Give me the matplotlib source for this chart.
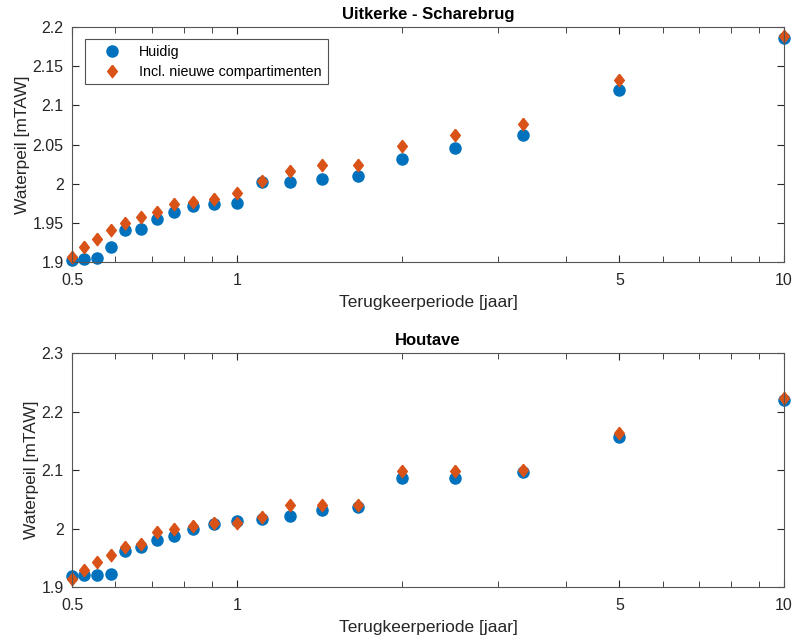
import numpy as np
import matplotlib.pyplot as plt
from matplotlib.ticker import FixedLocator, NullFormatter

plt.rcParams['font.family'] = ['Liberation Sans', 'DejaVu Sans']

# return periods [jaar]
periode = [0.5, 0.526, 0.556, 0.588, 0.625, 0.667, 0.714, 0.769, 0.833, 0.909,
           1.0, 1.111, 1.25, 1.429, 1.667, 2.0, 2.5, 3.333, 5.0, 10.0]

# Uitkerke - Scharebrug
uit_huidig = [1.903, 1.904, 1.905, 1.919, 1.941, 1.942, 1.955, 1.964, 1.972, 1.974,
              1.976, 2.002, 2.002, 2.006, 2.010, 2.031, 2.045, 2.062, 2.120, 2.186]
uit_nieuw = [1.907, 1.919, 1.929, 1.941, 1.950, 1.957, 1.964, 1.974, 1.977, 1.980,
             1.988, 2.004, 2.016, 2.024, 2.024, 2.048, 2.062, 2.076, 2.132, 2.189]

# Houtave
hou_huidig = [1.918, 1.921, 1.921, 1.922, 1.962, 1.968, 1.980, 1.988, 1.999, 2.007,
              2.013, 2.016, 2.021, 2.031, 2.036, 2.086, 2.087, 2.097, 2.156, 2.220]
hou_nieuw = [1.913, 1.929, 1.942, 1.955, 1.968, 1.974, 1.994, 1.999, 2.005, 2.009,
             2.010, 2.019, 2.040, 2.041, 2.041, 2.098, 2.099, 2.100, 2.163, 2.223]

blauw = '#0072BD'
oranje = '#D95319'
grijs = '#262626'

# MATLAB-like diamond (a bit taller than wide)
ruit = [(0, 1), (0.78, 0), (0, -1), (-0.78, 0), (0, 1)]

fig = plt.figure(figsize=(7.96, 6.41), dpi=100)
ax1 = fig.add_axes([0.0905, 0.591, 0.8945, 0.367])
ax2 = fig.add_axes([0.0905, 0.0843, 0.8945, 0.3647])


def opmaak(ax, titel, ylim, yticks):
    ax.set_xscale('log')
    ax.set_xlim(0.5, 10)
    ax.set_ylim(*ylim)
    ax.xaxis.set_major_locator(FixedLocator([0.5, 1, 5, 10]))
    ax.set_xticklabels(['0.5', '1', '5', '10'])
    ax.xaxis.set_minor_locator(FixedLocator([0.6, 0.7, 0.8, 0.9, 2, 3, 4, 6, 7, 8, 9]))
    ax.xaxis.set_minor_formatter(NullFormatter())
    ax.set_yticks(yticks)
    ax.set_yticklabels([('%g' % t) for t in yticks])
    ax.tick_params(which='both', direction='in', top=True, right=True,
                   colors=grijs, labelsize=11.5)
    ax.tick_params(axis='x', which='major', length=5, pad=8)
    ax.tick_params(axis='y', which='major', length=5, pad=6)
    ax.tick_params(which='minor', length=4)
    for s in ax.spines.values():
        s.set_color('#555555')
        s.set_linewidth(0.8)
    ax.set_title(titel, fontsize=12, fontweight='bold', pad=6)
    ax.set_xlabel('Terugkeerperiode [jaar]', fontsize=12.5, color=grijs, labelpad=5)
    ax.set_ylabel('Waterpeil [mTAW]', fontsize=12.5, color=grijs, labelpad=2)


ax1.plot(periode, uit_huidig, 'o', color=blauw, markersize=8, label='Huidig',
         clip_on=False)
ax1.plot(periode, uit_nieuw, marker=ruit, linestyle='none', color=oranje,
         markersize=9, label='Incl. nieuwe compartimenten', clip_on=False)
opmaak(ax1, 'Uitkerke - Scharebrug', (1.9, 2.2),
       [1.9, 1.95, 2.0, 2.05, 2.1, 2.15, 2.2])
leg = ax1.legend(loc='upper left', fontsize=10.3, frameon=True, fancybox=False,
                 borderpad=0.4, labelspacing=0.42, handlelength=3.0,
                 handletextpad=0.4, borderaxespad=0,
                 bbox_to_anchor=(0.018, 0.949))
leg.get_frame().set_edgecolor(grijs)
leg.get_frame().set_linewidth(0.8)

ax2.plot(periode, hou_huidig, 'o', color=blauw, markersize=8, clip_on=False)
ax2.plot(periode, hou_nieuw, marker=ruit, linestyle='none', color=oranje,
         markersize=9, clip_on=False)
opmaak(ax2, 'Houtave', (1.9, 2.3), [1.9, 2.0, 2.1, 2.2, 2.3])

fig.savefig('out.png', dpi=100)
